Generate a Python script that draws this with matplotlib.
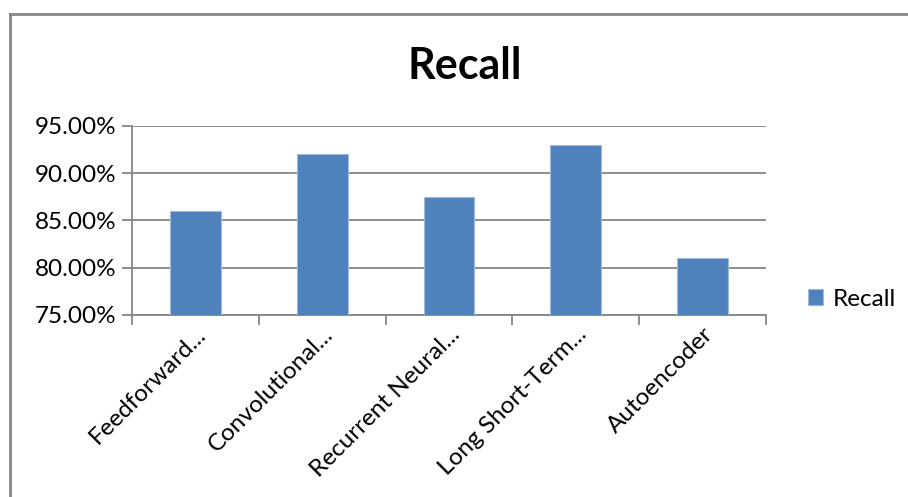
import numpy as np
from matplotlib import pyplot as plt
from matplotlib.lines import Line2D
from matplotlib.ticker import FuncFormatter
from matplotlib.transforms import ScaledTranslation

categories = ["Feedforward...", "Convolutional...", "Recurrent Neural...",
              "Long Short-Term...", "Autoencoder"]
recall = [86.0, 92.0, 87.5, 93.0, 81.0]
y_ticks = [75, 80, 85, 90, 95]

plt.rcParams['font.family'] = ['Lato', 'DejaVu Sans']
grey = "#868686"

fig = plt.figure(figsize=(9.08, 4.97), dpi=100)
ax = fig.add_axes([0.1454, 0.3662, 0.6982, 0.3803])

x = np.arange(len(categories))
ax.bar(x, recall, width=0.4, color="#4F81BD", edgecolor="#9DB9DC", linewidth=0.8,
       label="Recall", zorder=3)

ax.set_xlim(-0.5, len(categories) - 0.5)
ax.set_ylim(75, 95)
ax.set_yticks(y_ticks)
ax.yaxis.set_major_formatter(FuncFormatter(lambda v, p: f"{v:.2f}%"))
ax.grid(axis="y", color=grey, linewidth=1.3, zorder=0)

# category boundary ticks on x axis
ax.set_xticks(np.arange(-0.5, len(categories), 1.0))
ax.set_xticklabels([])
ax.set_xticks(x, minor=True)
ax.set_xticklabels(categories, minor=True, rotation=45, ha="right",
                   rotation_mode="anchor", fontsize=17.5)
for lbl in ax.get_xticklabels(minor=True):
    lbl.set_transform(lbl.get_transform() + ScaledTranslation(0.14, 0.02, fig.dpi_scale_trans))
ax.tick_params(axis="x", which="minor", length=0, pad=6)
ax.tick_params(axis="x", which="major", length=7, color=grey, width=1.3)
ax.tick_params(axis="y", length=7, color=grey, width=1.3, labelsize=17.5, pad=4)

for side in ["top", "right"]:
    ax.spines[side].set_visible(False)
for side in ["left", "bottom"]:
    ax.spines[side].set_color(grey)
    ax.spines[side].set_linewidth(1.3)

fig.text(0.512, 0.867, "Recall", ha="center", va="center", fontsize=31, fontweight="bold")

leg = fig.legend(loc="center left", bbox_to_anchor=(0.866, 0.398), frameon=False,
                 fontsize=17.5, handlelength=0.6, handleheight=0.6, handletextpad=0.4)

# chart area border (top and left)
fig.add_artist(Line2D([0.0105, 0.0105], [0.0, 0.972], transform=fig.transFigure,
                      color=grey, linewidth=2))
fig.add_artist(Line2D([0.0105, 1.0], [0.972, 0.972], transform=fig.transFigure,
                      color=grey, linewidth=2))

fig.savefig("out.png", dpi=100)
